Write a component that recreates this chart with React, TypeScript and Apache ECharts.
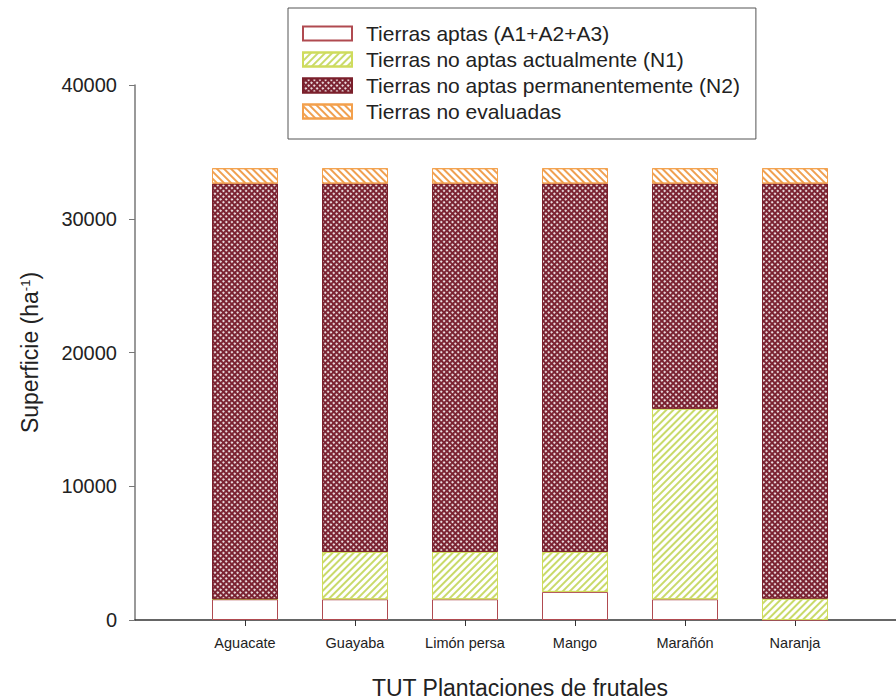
import React, { useEffect, useRef } from "react";
import * as echarts from "echarts";

const categories = ["Aguacate", "Guayaba", "Limón persa", "Mango", "Marañón", "Naranja"];
const aptas = [1550, 1550, 1550, 2100, 1550, 0];
const noAptasActual = [0, 3550, 3550, 3000, 14250, 1600];
const noAptasPerm = [31080, 27530, 27530, 27530, 16830, 31030];
const noEvaluadas = [1150, 1150, 1150, 1150, 1150, 1150];
const yTicks = { min: 0, max: 40000, interval: 10000 };

const seriesNames = [
  "Tierras aptas (A1+A2+A3)",
  "Tierras no aptas actualmente (N1)",
  "Tierras no aptas permanentemente (N2)",
  "Tierras no evaluadas",
];

const FONT = "'Liberation Sans', Arial, Helvetica, sans-serif";

export default function App() {
  const ref = useRef<HTMLDivElement>(null);
  useEffect(() => {
    if (!ref.current) return;
    const chart = echarts.init(ref.current, null, { renderer: "svg" });
    // pad with an empty slot on each side so the y axis sits one slot left of the first bar
    const axisCats = ["", ...categories, ""];
    const pad = (arr: number[]) => [null, ...arr, null];
    const isReal = (i: number) => i >= 1 && i <= categories.length;

    const common = { type: "bar", stack: "total", barWidth: 66 };

    chart.setOption({
      animation: false,
      backgroundColor: "#ffffff",
      textStyle: { fontFamily: FONT },
      grid: { left: 135, right: -9, top: 85, bottom: 80, containLabel: false, outerBoundsMode: "none" },
      legend: {
        orient: "vertical",
        left: 288,
        top: 8,
        icon: "rect",
        itemWidth: 49,
        itemHeight: 14,
        itemGap: 5,
        padding: [15, 16, 17, 14],
        borderColor: "#555",
        borderWidth: 1,
        textStyle: { fontSize: 21, color: "#222", fontFamily: FONT, lineHeight: 20, padding: [0, 0, 0, 9] },
        data: seriesNames,
      },
      xAxis: {
        type: "category",
        data: axisCats,
        boundaryGap: false,
        name: "TUT Plantaciones de frutales",
        nameLocation: "middle",
        nameGap: 56,
        nameTextStyle: { fontSize: 23, color: "#222", fontFamily: FONT },
        axisLine: { lineStyle: { color: "#333", width: 1.5 } },
        axisTick: {
          show: true,
          length: 6,
          interval: (i: number) => isReal(i),
          lineStyle: { color: "#333" },
        },
        axisLabel: {
          fontSize: 14.5,
          color: "#222",
          margin: 15,
          interval: (i: number) => isReal(i),
          fontFamily: FONT,
        },
        splitLine: { show: false },
      },
      yAxis: {
        type: "value",
        min: yTicks.min,
        max: yTicks.max,
        interval: yTicks.interval,
        name: "{t|Superficie (ha}{s|-1}{t|)}",
        nameLocation: "middle",
        nameGap: 92,
        nameTextStyle: {
          rich: {
            t: { fontSize: 23, color: "#222", fontFamily: FONT, lineHeight: 26 },
            s: { fontSize: 13, color: "#222", fontFamily: FONT, lineHeight: 13, verticalAlign: "top", padding: [2, 0, 0, 0] },
          },
        },
        axisLine: { show: true, lineStyle: { color: "#777", width: 1.5 } },
        axisTick: { show: true, length: 6, lineStyle: { color: "#777" } },
        axisLabel: {
          fontSize: 20,
          color: "#222",
          margin: 18,
          fontFamily: FONT,
          formatter: (v: number) => String(v),
        },
        splitLine: { show: false },
      },
      series: [
        {
          ...common,
          name: seriesNames[0],
          data: pad(aptas),
          itemStyle: { color: "#ffffff", borderColor: "#b04a50", borderWidth: 1 },
        },
        {
          ...common,
          name: seriesNames[1],
          data: pad(noAptasActual),
          itemStyle: {
            color: "#ffffff",
            borderColor: "#cfdc5c",
            borderWidth: 1,
            decal: {
              symbol: "rect",
              symbolSize: 1,
              color: "#c9da6a",
              dashArrayX: [1, 0],
              dashArrayY: [1.4, 2.2],
              rotation: -Math.PI / 4,
            },
          },
        },
        {
          ...common,
          name: seriesNames[2],
          data: pad(noAptasPerm),
          itemStyle: {
            color: "#7a2130",
            borderColor: "#7a1f2b",
            borderWidth: 1,
            decal: {
              symbol: "circle",
              symbolSize: 1,
              color: "#ffffff",
              dashArrayX: [1.9, 1.3],
              dashArrayY: [1.9, 1.3],
              rotation: Math.PI / 4,
            },
          },
        },
        {
          ...common,
          name: seriesNames[3],
          data: pad(noEvaluadas),
          itemStyle: {
            color: "#ffffff",
            borderColor: "#f3a04c",
            borderWidth: 1,
            decal: {
              symbol: "rect",
              symbolSize: 1,
              color: "#f0a050",
              dashArrayX: [1, 0],
              dashArrayY: [1.5, 2.8],
              rotation: Math.PI / 4,
            },
          },
        },
      ],
    });
    return () => chart.dispose();
  }, []);
  return (
    <div
      ref={ref}
      style={{ position: "absolute", left: 0, top: 0, width: 896, height: 700, background: "#fff" }}
    />
  );
}
